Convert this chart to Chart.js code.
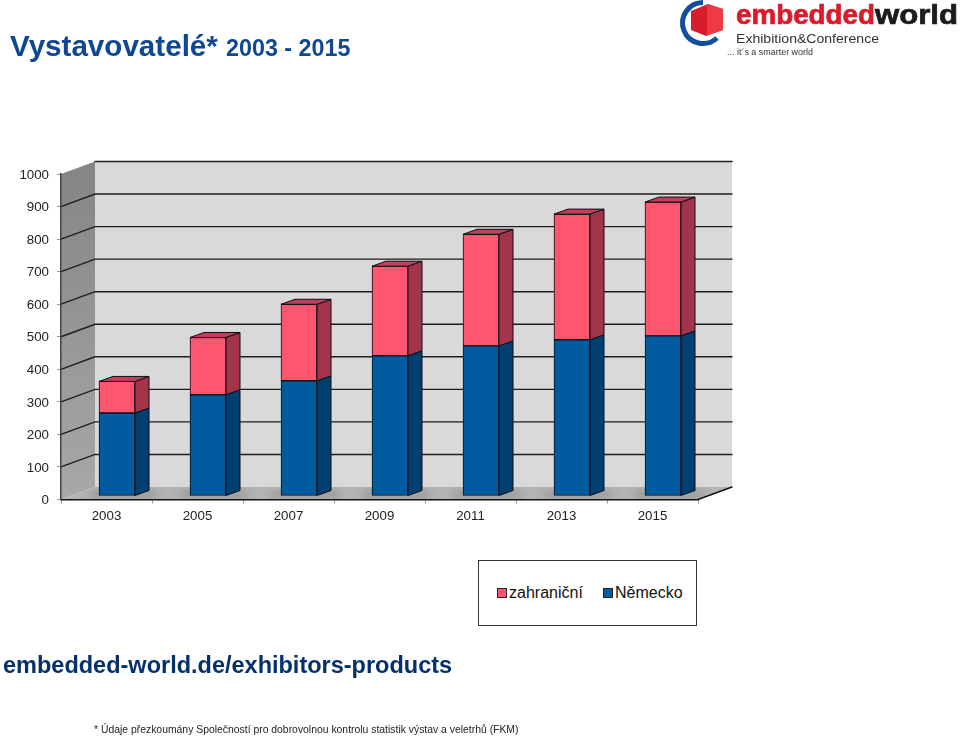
<!DOCTYPE html>
<html lang="cs">
<head>
<meta charset="utf-8">
<title>Vystavovatelé 2003 - 2015</title>
<script src="https://cdn.jsdelivr.net/npm/chart.js@4/dist/chart.umd.min.js"></script>
<style>
	html, body { margin: 0; padding: 0; background: #fff; }
	body { width: 960px; height: 736px; position: relative; overflow: hidden; font-family: "Liberation Sans", Arial, sans-serif; }
	canvas { position: absolute; left: 0; top: 0; }
	.txt { position: absolute; white-space: nowrap; }
	#title { left: 10px; top: 28px; color: #0f4793; font-weight: bold; font-size: 29.6px; line-height: 36px; }
	#title small { font-size: 23.3px; }
	#site { left: 3px; top: 650px; color: #04306c; font-weight: bold; font-size: 23.5px; line-height: 30px; }
	#note { left: 94px; top: 723px; color: #222; font-size: 10.4px; line-height: 14px; }
	#legend { position: absolute; left: 478px; top: 560px; width: 217px; height: 64px; border: 1px solid #333; background: #fff; }
	#legend span { position: absolute; top: 23px; font-size: 16px; line-height: 18px; color: #111; }
	#legend i { position: absolute; top: 27px; width: 8px; height: 8px; border: 1px solid #222; }
	#logo { position: absolute; left: 670px; top: 0; }
</style>
</head>
<body>
<canvas id="myChart" width="960" height="736"></canvas>
<div class="txt" id="title">Vystavovatelé* <small>2003 - 2015</small></div>
<div id="legend"></div>
<div class="txt" id="site">embedded-world.de/exhibitors-products</div>
<div class="txt" id="note">* Údaje přezkoumány Společností pro dobrovolnou kontrolu statistik výstav a veletrhů (FKM)</div>
<svg id="logo" width="290" height="60" font-family="Liberation Sans, Arial, sans-serif">
	<path d="M33 2.5 A20.5 20.5 0 1 0 47 38" fill="none" stroke="#124f9c" stroke-width="5"/>
	<path d="M21 11 L38 4 L53 9 L53 30 L36 36 L21 30 Z" fill="#d81c2c"/>
	<path d="M37 5 L53 9 L53 30 L37 35 Z" fill="#ee3a44"/>
	<text x="66" y="24" font-size="27" font-weight="bold" fill="#dc1a2c" stroke="#dc1a2c" stroke-width="0.7" textLength="139" lengthAdjust="spacingAndGlyphs">embedded</text>
	<text x="205" y="24" font-size="27" font-weight="bold" fill="#1c1c1c" stroke="#1c1c1c" stroke-width="0.7" textLength="83" lengthAdjust="spacingAndGlyphs">world</text>
	<text x="66" y="43" font-size="13" fill="#333" textLength="143" lengthAdjust="spacingAndGlyphs">Exhibition&amp;Conference</text>
	<text x="57" y="55" font-size="9.5" fill="#333" textLength="86" lengthAdjust="spacingAndGlyphs">... it´s a smarter world</text>
</svg>
<script>
// Data
const categories = ['2003', '2005', '2007', '2009', '2011', '2013', '2015'];
const nemecko = [255, 311, 354, 431, 461, 480, 492];
const zahranicni = [97, 176, 235, 275, 343, 386, 411];

const colors = {
	nemecko: { front: '#005b9f', side: '#003f6f' },
	zahranicni: { front: '#ff5670', side: '#a3354a', top: '#c0405a' }
};

// depth of the fake 3D box and of the bars inside it
const wallDepth = { x: 34, y: -12.5 };
const barShift = { x: 10.5, y: -3.5 };
const barDepth = { x: 14, y: -5 };

function poly(ctx, pts, fill, stroke, lw) {
	ctx.beginPath();
	pts.forEach((p, i) => i ? ctx.lineTo(p[0], p[1]) : ctx.moveTo(p[0], p[1]));
	ctx.closePath();
	if (fill) { ctx.fillStyle = fill; ctx.fill(); }
	if (stroke) { ctx.strokeStyle = stroke; ctx.lineWidth = lw || 1; ctx.stroke(); }
}

const box3d = {
	id: 'box3d',
	// back wall, side wall, floor and grid lines
	beforeDraw(chart) {
		const { ctx, chartArea: a, scales } = chart;
		const dx = wallDepth.x, dy = wallDepth.y;
		ctx.save();
		poly(ctx, [[a.left + dx, a.top + dy], [a.right + dx, a.top + dy], [a.right + dx, a.bottom + dy], [a.left + dx, a.bottom + dy]], '#d9d9d9');
		const g = ctx.createLinearGradient(0, a.top, 0, a.bottom);
		g.addColorStop(0, '#868686');
		g.addColorStop(1, '#a8a8a8');
		poly(ctx, [[a.left, a.top], [a.left + dx, a.top + dy], [a.left + dx, a.bottom + dy], [a.left, a.bottom]], g);
		poly(ctx, [[a.left, a.bottom], [a.right, a.bottom], [a.right + dx, a.bottom + dy], [a.left + dx, a.bottom + dy]], '#b4b4b4');

		// shadow of the bars on the floor
		ctx.save();
		ctx.beginPath();
		ctx.moveTo(a.left, a.bottom);
		ctx.lineTo(a.right, a.bottom);
		ctx.lineTo(a.right + dx, a.bottom + dy);
		ctx.lineTo(a.left + dx, a.bottom + dy);
		ctx.closePath();
		ctx.clip();
		ctx.filter = 'blur(4px)';
		chart.getDatasetMeta(0).data.forEach(bar => {
			const l = bar.x - bar.width / 2 + barShift.x - 10;
			const r = bar.x + bar.width / 2 + barShift.x + 22;
			poly(ctx, [[l, a.bottom - 3], [r, a.bottom - 3], [r, a.bottom - 7], [l, a.bottom - 7]], '#808080');
		});
		ctx.restore();

		ctx.lineCap = 'round';
		scales.y.ticks.forEach(t => {
			if (t.value === 0) return;
			const y = scales.y.getPixelForValue(t.value);
			ctx.strokeStyle = '#1e1e1e';
			ctx.lineWidth = t.value === 1000 ? 1.6 : 1.4;
			ctx.beginPath();
			if (t.value !== 1000) ctx.moveTo(a.left, y);
			else ctx.moveTo(a.left + dx, y + dy);
			ctx.lineTo(a.left + dx, y + dy);
			ctx.lineTo(a.right + dx, y + dy);
			ctx.stroke();
		});
		ctx.strokeStyle = '#111';
		ctx.lineWidth = 1.4;
		ctx.beginPath();
		ctx.moveTo(a.right, a.bottom);
		ctx.lineTo(a.right + dx, a.bottom + dy);
		ctx.stroke();
		ctx.restore();
	},
	// bars stand a little behind the front plane
	beforeDatasetsDraw(chart) {
		chart.ctx.save();
		chart.ctx.translate(barShift.x, barShift.y);
	},
	afterDatasetsDraw(chart) {
		const ctx = chart.ctx;
		const dx = barDepth.x, dy = barDepth.y;
		chart.data.datasets.forEach((ds, i) => {
			chart.getDatasetMeta(i).data.forEach(bar => {
				const r = bar.x + bar.width / 2, l = bar.x - bar.width / 2;
				poly(ctx, [[r, bar.y], [r + dx, bar.y + dy], [r + dx, bar.base + dy], [r, bar.base]], ds.sideColor, '#0d0d18', 1);
				if (ds.topColor) {
					poly(ctx, [[l, bar.y], [l + dx, bar.y + dy], [r + dx, bar.y + dy], [r, bar.y]], ds.topColor, '#0d0d18', 1);
				}
			});
		});
		ctx.restore();
	}
};

const chart = new Chart(document.getElementById('myChart').getContext('2d'), {
	type: 'bar',
	data: {
		labels: categories,
		datasets: [{
			label: 'Německo',
			data: nemecko,
			backgroundColor: colors.nemecko.front,
			sideColor: colors.nemecko.side
		}, {
			label: 'zahraniční',
			data: zahranicni,
			backgroundColor: colors.zahranicni.front,
			sideColor: colors.zahranicni.side,
			topColor: colors.zahranicni.top
		}]
	},
	options: {
		responsive: false,
		animation: false,
		layout: { padding: { top: 174, right: 262, bottom: 196.5, left: 0 } },
		datasets: {
			bar: { barThickness: 36, borderWidth: 1, borderColor: '#0d0d18', borderSkipped: false, clip: false }
		},
		plugins: { legend: { display: false }, tooltip: { enabled: false } },
		scales: {
			x: {
				stacked: true,
				afterFit(scale) { scale.height = 40; },
				border: { color: '#111', width: 1.5 },
				grid: { drawOnChartArea: false, drawTicks: true, tickLength: 4, color: '#999' },
				ticks: { color: '#222', padding: 5, maxRotation: 0, font: { family: '"Liberation Sans"', size: 13.3 } }
			},
			y: {
				stacked: true,
				min: 0,
				max: 1000,
				afterFit(scale) { scale.width = 61; },
				border: { color: '#444', width: 1.5 },
				grid: { drawOnChartArea: false, drawTicks: true, tickLength: 4, color: '#999' },
				ticks: { stepSize: 100, color: '#222', padding: 8, labelOffset: 1, callback: v => String(v), font: { family: '"Liberation Sans"', size: 13.3 } }
			}
		}
	},
	plugins: [box3d]
});

// Legend box, top series first as in the original
const legendBox = document.getElementById('legend');
const legendX = { 'zahraniční': 18, 'Německo': 124 };
chart.data.datasets.slice().reverse().forEach(ds => {
	const sw = document.createElement('i');
	sw.style.left = legendX[ds.label] + 'px';
	sw.style.background = ds.backgroundColor;
	legendBox.appendChild(sw);
	const tx = document.createElement('span');
	tx.style.left = (legendX[ds.label] + 12) + 'px';
	tx.textContent = ds.label;
	legendBox.appendChild(tx);
});
</script>
</body>
</html>
